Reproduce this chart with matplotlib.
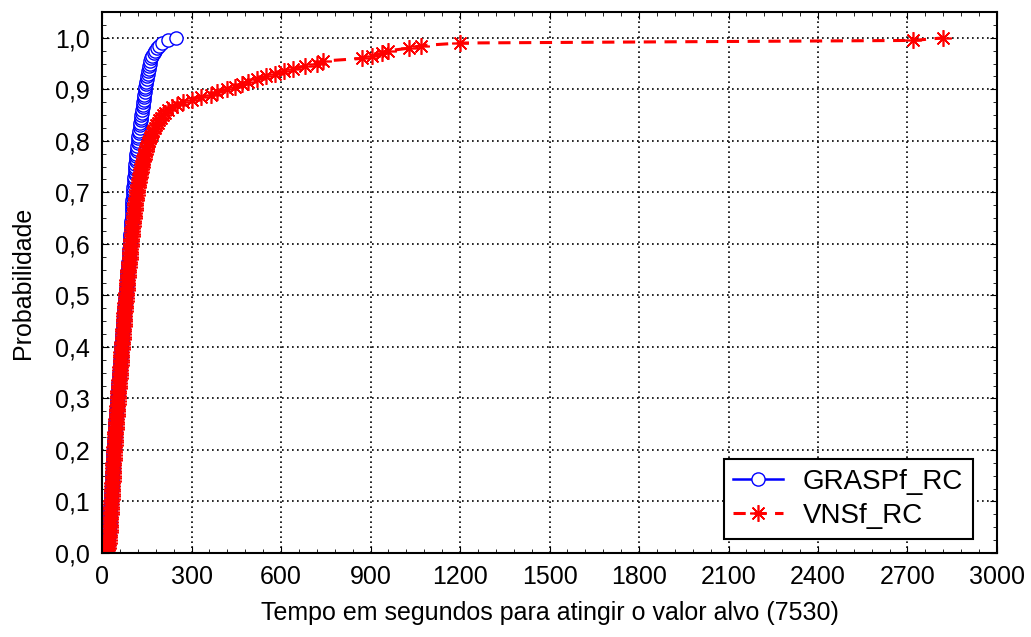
import matplotlib
matplotlib.use("Agg")
import matplotlib.pyplot as plt
from matplotlib.ticker import MultipleLocator, FuncFormatter

plt.rcParams["font.family"] = ["Liberation Sans", "DejaVu Sans"]

# probabilidade acumulada (200 execuções, i/200)
PROBABILIDADE = [
    0.005, 0.010, 0.015, 0.020, 0.025, 0.030, 0.035, 0.040, 0.045, 0.050,
    0.055, 0.060, 0.065, 0.070, 0.075, 0.080, 0.085, 0.090, 0.095, 0.100,
    0.105, 0.110, 0.115, 0.120, 0.125, 0.130, 0.135, 0.140, 0.145, 0.150,
    0.155, 0.160, 0.165, 0.170, 0.175, 0.180, 0.185, 0.190, 0.195, 0.200,
    0.205, 0.210, 0.215, 0.220, 0.225, 0.230, 0.235, 0.240, 0.245, 0.250,
    0.255, 0.260, 0.265, 0.270, 0.275, 0.280, 0.285, 0.290, 0.295, 0.300,
    0.305, 0.310, 0.315, 0.320, 0.325, 0.330, 0.335, 0.340, 0.345, 0.350,
    0.355, 0.360, 0.365, 0.370, 0.375, 0.380, 0.385, 0.390, 0.395, 0.400,
    0.405, 0.410, 0.415, 0.420, 0.425, 0.430, 0.435, 0.440, 0.445, 0.450,
    0.455, 0.460, 0.465, 0.470, 0.475, 0.480, 0.485, 0.490, 0.495, 0.500,
    0.505, 0.510, 0.515, 0.520, 0.525, 0.530, 0.535, 0.540, 0.545, 0.550,
    0.555, 0.560, 0.565, 0.570, 0.575, 0.580, 0.585, 0.590, 0.595, 0.600,
    0.605, 0.610, 0.615, 0.620, 0.625, 0.630, 0.635, 0.640, 0.645, 0.650,
    0.655, 0.660, 0.665, 0.670, 0.675, 0.680, 0.685, 0.690, 0.695, 0.700,
    0.705, 0.710, 0.715, 0.720, 0.725, 0.730, 0.735, 0.740, 0.745, 0.750,
    0.755, 0.760, 0.765, 0.770, 0.775, 0.780, 0.785, 0.790, 0.795, 0.800,
    0.805, 0.810, 0.815, 0.820, 0.825, 0.830, 0.835, 0.840, 0.845, 0.850,
    0.855, 0.860, 0.865, 0.870, 0.875, 0.880, 0.885, 0.890, 0.895, 0.900,
    0.905, 0.910, 0.915, 0.920, 0.925, 0.930, 0.935, 0.940, 0.945, 0.950,
    0.955, 0.960, 0.965, 0.970, 0.975, 0.980, 0.985, 0.990, 0.995, 1.000,
]

# tempos (s) ordenados
TEMPO_GRASP = [
    16, 18, 19, 20, 21, 21, 22, 23, 23, 24,
    25, 25, 26, 26, 27, 27, 28, 28, 29, 29,
    30, 30, 31, 31, 32, 32, 32, 33, 33, 34,
    34, 35, 35, 36, 36, 37, 37, 38, 38, 39,
    39, 40, 41, 41, 42, 42, 43, 44, 44, 45,
    45, 46, 47, 47, 48, 49, 49, 50, 51, 51,
    52, 53, 53, 54, 55, 55, 56, 57, 57, 58,
    59, 59, 60, 61, 61, 62, 63, 63, 64, 65,
    65, 66, 67, 67, 68, 69, 69, 70, 71, 71,
    72, 73, 73, 74, 75, 76, 76, 77, 78, 79,
    79, 80, 81, 82, 82, 83, 84, 85, 85, 86,
    87, 87, 88, 89, 89, 90, 91, 91, 92, 93,
    93, 94, 94, 95, 96, 96, 97, 97, 98, 99,
    99, 100, 100, 101, 101, 102, 102, 103, 104, 104,
    105, 105, 106, 107, 107, 108, 109, 109, 110, 111,
    112, 113, 113, 114, 115, 116, 117, 118, 119, 120,
    121, 122, 123, 125, 126, 127, 128, 130, 131, 132,
    133, 134, 136, 137, 138, 140, 141, 142, 143, 144,
    145, 147, 148, 150, 151, 153, 155, 157, 158, 160,
    162, 165, 169, 173, 178, 184, 192, 202, 220, 248,
]

TEMPO_VNS = [
    18, 20, 21, 22, 23, 23, 24, 25, 25, 26,
    27, 27, 28, 28, 29, 29, 30, 30, 31, 31,
    32, 32, 33, 33, 34, 34, 34, 35, 35, 36,
    36, 37, 37, 38, 38, 39, 39, 40, 40, 41,
    41, 42, 43, 43, 44, 44, 45, 46, 46, 47,
    47, 48, 49, 49, 50, 51, 51, 52, 53, 53,
    54, 55, 55, 56, 57, 57, 58, 59, 59, 60,
    61, 61, 62, 63, 63, 64, 65, 65, 66, 67,
    67, 68, 69, 69, 70, 71, 71, 72, 73, 73,
    74, 75, 75, 76, 77, 78, 78, 79, 80, 81,
    81, 82, 83, 84, 84, 85, 86, 87, 88, 88,
    89, 90, 91, 92, 92, 93, 94, 95, 96, 97,
    97, 98, 99, 100, 101, 102, 103, 104, 105, 106,
    107, 108, 109, 110, 111, 112, 113, 115, 116, 117,
    118, 120, 121, 123, 124, 126, 128, 129, 131, 133,
    135, 137, 139, 141, 143, 146, 148, 151, 154, 157,
    160, 164, 168, 172, 176, 181, 186, 192, 198, 205,
    212, 222, 235, 250, 270, 300, 330, 365, 385, 420,
    445, 470, 490, 520, 550, 580, 610, 640, 680, 720,
    740, 870, 905, 940, 960, 1030, 1070, 1200, 2720, 2820,
]

fig = plt.figure(figsize=(10.31, 6.37), dpi=100)
ax = fig.add_axes([0.099, 0.132, 0.868, 0.849])

ax.plot(TEMPO_GRASP, PROBABILIDADE, color="blue", lw=1.8, marker="o",
        ms=9.5, mfc="white", mec="blue", mew=1.0, label="GRASPf_RC")
ax.plot(TEMPO_VNS, PROBABILIDADE, color="red", lw=2.2, ls=(0, (4, 2.8)),
        marker=(8, 2, 0), ms=12, mec="red", mew=1.2, label="VNSf_RC")

ax.set_xlim(0, 3000)
ax.set_ylim(0, 1.05)
ax.xaxis.set_major_locator(MultipleLocator(300))
ax.xaxis.set_minor_locator(MultipleLocator(60))
ax.yaxis.set_major_locator(MultipleLocator(0.1))
ax.yaxis.set_minor_locator(MultipleLocator(0.025))
ax.yaxis.set_major_formatter(FuncFormatter(lambda v, p: f"{v:.1f}".replace(".", ",")))
ax.tick_params(which="both", direction="in", top=True, right=True, labelsize=18)
ax.tick_params(which="major", length=5)
ax.tick_params(which="minor", length=3)
ax.tick_params(axis="x", which="major", pad=9)
ax.tick_params(axis="y", which="major", pad=9)
ax.grid(True, which="major", color="black", ls=(0, (1, 2)), lw=1.2)
for s in ax.spines.values():
    s.set_linewidth(1.5)

ax.set_xlabel("Tempo em segundos para atingir o valor alvo (7530)", fontsize=18, labelpad=8)
ax.set_ylabel("Probabilidade", fontsize=18, labelpad=14)

leg = ax.legend(loc="lower right", bbox_to_anchor=(0.973, 0.026), borderaxespad=0,
                fontsize=20, frameon=True, fancybox=False, edgecolor="black",
                framealpha=1, handlelength=1.8, handletextpad=0.7,
                borderpad=0.35, labelspacing=0.3)
leg.get_frame().set_linewidth(1.5)

fig.savefig("out.png", dpi=100)
